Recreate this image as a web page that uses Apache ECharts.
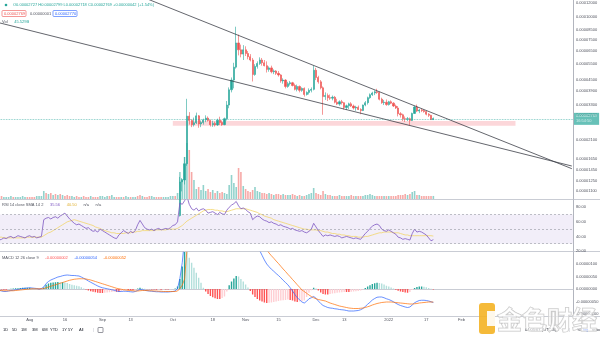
<!DOCTYPE html>
<html>
<head>
<meta charset="utf-8">
<script src="https://cdn.jsdelivr.net/npm/echarts@6/dist/echarts.min.js"></script>
<style>
html,body{margin:0;padding:0;background:#fff;}
#c{width:600px;height:337px;}
</style>
</head>
<body>
<div id="c"></div>
<script>
// ---- SHIB/USDT daily, Jul 19 2021 -> Jan 20 2022 (axis runs on to Mar 20 2022) ----
const firstDay = '2021-07-19';
const dayCount = 245;
const candleStart = '2021-10-01';

// prices in units of 1e-6 USDT
const opens = [
  7.1, 7.5, 7.4, 8.1, 12.4, 12.7, 15.6, 28.5, 27.0, 25.6, 26.2, 28.6, 25.8, 26.3, 27.2, 27.8, 27.0, 25.6, 26.0, 25.5, 27.1, 26.3, 25.6, 27.6, 32.8, 39.8, 45.0, 53.0, 72.0, 66.0, 62.5,
  66.0, 63.0, 60.5, 58.0, 48.3, 53.5, 55.5, 58.0, 56.0, 54.0, 51.5, 52.5, 50.0, 50.5, 49.0, 48.0, 44.5, 45.0, 41.5, 43.0, 43.5, 42.0, 40.0, 41.5, 39.5, 40.5, 37.5, 38.5, 39.5, 40.0,
  51.0, 46.5, 44.0, 40.8, 36.5, 37.0, 36.0, 35.8, 36.2, 34.0, 33.2, 34.2, 33.8, 31.8, 32.5, 33.3, 32.4, 31.6, 31.9, 31.0, 30.6, 32.8, 33.8, 36.0, 37.4, 38.2, 38.8, 38.5, 35.3, 33.8, 34.0,
  33.0, 34.2, 33.6, 32.4, 31.6, 29.4, 29.0, 27.6, 27.4, 27.6, 27.0, 29.5, 32.0, 30.4, 30.8, 30.6, 30.2, 29.2, 28.8, 27.27
];
const highs = [
  7.6, 7.6, 8.2, 13.2, 13.0, 17.0, 35.5, 30.0, 27.4, 28.0, 29.8, 28.9, 27.0, 27.6, 28.8, 28.4, 27.3, 26.9, 26.6, 27.6, 28.3, 27.0, 28.0, 34.5, 41.0, 46.5, 56.0, 88.4, 80.0, 70.5, 70.0,
  69.0, 65.0, 62.5, 59.5, 55.0, 57.0, 60.0, 59.5, 58.0, 57.0, 53.5, 54.0, 51.5, 51.0, 50.5, 48.5, 46.0, 45.5, 44.0, 44.5, 44.0, 43.0, 42.5, 42.0, 41.0, 41.0, 39.0, 40.5, 41.0, 54.0,
  52.5, 47.5, 45.0, 41.5, 38.5, 38.0, 37.5, 37.0, 36.8, 35.5, 34.8, 35.0, 34.0, 33.0, 33.8, 34.0, 33.0, 32.5, 32.6, 31.5, 33.0, 34.5, 36.5, 38.0, 38.8, 39.5, 40.3, 38.9, 36.0, 35.0, 35.2,
  34.6, 34.8, 34.0, 33.0, 32.4, 30.0, 29.4, 28.4, 28.2, 28.0, 29.8, 32.5, 33.0, 31.2, 31.3, 31.0, 30.5, 29.6, 29.0, 27.99
];
const lows = [
  7.0, 7.3, 7.3, 8.0, 11.0, 12.0, 15.2, 25.6, 24.8, 25.0, 25.8, 24.6, 24.8, 25.6, 26.4, 26.6, 25.0, 24.9, 25.0, 25.2, 25.5, 25.2, 25.4, 27.0, 31.5, 38.5, 40.5, 52.0, 61.5, 60.0, 58.0,
  61.0, 58.5, 57.0, 44.2, 47.5, 52.0, 54.5, 54.0, 53.5, 49.5, 50.0, 49.0, 48.5, 48.0, 47.0, 43.5, 43.0, 40.5, 40.8, 42.0, 41.5, 39.5, 39.0, 38.5, 38.8, 36.5, 37.0, 37.5, 38.5, 39.5,
  45.0, 43.0, 40.0, 29.0, 35.0, 34.5, 35.0, 34.8, 33.5, 32.8, 32.5, 33.0, 31.0, 30.8, 31.2, 32.0, 31.0, 30.5, 30.8, 29.2, 30.4, 32.3, 33.0, 35.5, 36.8, 37.2, 37.8, 34.8, 33.3, 32.8, 32.5,
  32.6, 33.2, 32.0, 31.2, 28.4, 28.0, 26.8, 26.5, 26.8, 25.4, 26.8, 29.3, 30.0, 29.6, 30.0, 29.8, 28.8, 28.2, 27.2, 27.18
];
const closes = [
  7.5, 7.4, 8.1, 12.4, 12.7, 15.6, 28.5, 27.0, 25.6, 26.2, 28.6, 25.8, 26.3, 27.2, 27.8, 27.0, 25.6, 26.0, 25.5, 27.1, 26.3, 25.6, 27.6, 32.8, 39.8, 45.0, 53.0, 72.0, 66.0, 62.5, 66.0,
  63.0, 60.5, 58.0, 48.3, 53.5, 55.5, 58.0, 56.0, 54.0, 51.5, 52.5, 50.0, 50.5, 49.0, 48.0, 44.5, 45.0, 41.5, 43.0, 43.5, 42.0, 40.0, 41.5, 39.5, 40.5, 37.5, 38.5, 39.5, 40.0, 51.0,
  46.5, 44.0, 40.8, 36.5, 37.0, 36.0, 35.8, 36.2, 34.0, 33.2, 34.2, 33.8, 31.8, 32.5, 33.3, 32.4, 31.6, 31.9, 31.0, 30.6, 32.8, 33.8, 36.0, 37.4, 38.2, 38.8, 38.5, 35.3, 33.8, 34.0, 33.0,
  34.2, 33.6, 32.4, 31.6, 29.4, 29.0, 27.6, 27.4, 27.6, 27.0, 29.5, 32.0, 30.4, 30.8, 30.6, 30.2, 29.2, 28.8, 27.27, 27.69
];

// daily volume, billions of SHIB (from Jul 19)
const volumes = [
  45,45,30,30,30,45,30,30,30,30,45,30,30,30,30,30,45,45,45,
  120,90,75,90,60,75,60,75,60,45,60,
  45,45,30,45,30,30,45,30,30,45,30,30,30,45,45,30,45,45,60,30,30,30,30,30,45,30,30,30,30,45,60,45,30,30,45,45,30,30,30,30,30,30,30,45,
  45,45,90,405,300,630,840,735,405,285,150,180,135,210,120,150,105,135,90,120,90,105,90,75,210,360,240,180,465,405,195,
  150,120,105,135,180,120,105,90,90,75,90,75,60,75,75,60,75,60,60,60,75,60,45,60,45,45,60,75,90,165,
  90,75,60,120,75,60,60,45,45,45,60,45,45,45,45,60,45,45,45,45,45,60,60,75,60,45,45,45,45,45,45,
  45,45,45,45,60,60,60,75,60,75,105,120,60,60,45,45,45,45,45,45.529
];
// up (1) / down (0) days before the first drawn candle
const earlyVolumeUp = [
  0,0,1,1,1,1,0,1,1,1,1,1,0,
  0,0,0,1,1,1,1,0,1,0,1,0,1,0,1,0,0,0,1,1,0,0,1,0,0,0,1,0,0,0,1,
  1,1,1,0,1,1,0,0,1,0,1,1,0,1,1,0,0,1,0,0,0,1,1,0,0,0,1,1,1,1
];

// RSI 14 and its SMA 14
const rsi = [
  35,36,38,37,39,40,38,39,41,40,39,38,40,41,39,40,38,39,40,
  63,65,66,64,66,67,65,68,70,72,
  68,64,61,58,56,57,55,53,51,52,49,47,48,46,
  50,48,46,44,42,40,38,37,
  42,45,48,46,44,47,45,48,
  56,62,57,
  52,50,49,50,48,50,51,49,50,51,50,52,
  55,56,60,86,84,89,95,
  84,78,76,79,75,77,78,76,72,73,74,72,70,73,71,70,
  76,80,83,85,88,82,78,79,
  77,74,72,63,66,68,67,64,62,61,59,60,58,57,55,56,54,53,52,50,51,49,48,47,48,46,45,47,50,58,
  53,48,44,40,42,41,42,41,40,41,40,38,39,40,39,38,37,38,37,36,40,44,47,51,54,56,57,55,50,48,47,
  49,47,45,43,39,38,36,37,36,35,44,50,46,47,46,44,42,38,34,35.56
];
const rsiMa = [
  39,39,38,38,38,38,38,38,38,38,38,38,39,39,39,39,39,39,39,
  41,43,45,46,48,50,52,54,56,58,60,61,62,63,
  62,61,60,59,58,57,56,55,53,52,51,49,48,
  47,46,45,45,44,44,44,44,45,45,45,46,46,47,47,48,48,48,48,48,48,49,49,49,49,49,50,50,
  50,50,51,53,55,58,61,63,65,67,69,71,73,75,76,77,77,77,76,76,75,75,74,74,75,76,77,78,78,78,78,
  78,77,76,75,74,73,71,70,68,67,66,65,63,62,61,60,59,58,57,56,55,54,53,52,51,50,50,49,49,49,
  49,48,48,47,46,46,45,44,44,43,43,42,42,41,41,40,40,40,39,39,39,40,40,41,42,43,44,45,45,46,46,
  46,46,45,45,45,44,43,42,42,41,41,41,41,41,41,41,41,41,41,40.5
];

// MACD 12 26 9, units of 1e-6
const macd = [
  -0.05,-0.08,-0.10,-0.10,-0.08,-0.06,-0.05,-0.03,-0.02,0.00,0.02,0.03,0.04,0.05,0.04,0.03,
  0.02,0.00,0.02,0.08,0.22,0.30,0.36,0.40,0.44,0.48,0.50,0.53,0.55,0.56,
  0.55,0.54,0.54,0.53,0.52,0.48,0.43,0.38,0.32,0.27,0.22,0.17,0.12,0.08,
  0.05,0.03,0.01,-0.01,-0.03,-0.05,-0.08,-0.10,-0.10,-0.09,-0.09,-0.10,-0.11,-0.12,-0.10,-0.06,-0.02,-0.03,-0.05,-0.07,-0.08,-0.09,-0.10,-0.11,-0.11,-0.12,-0.12,-0.12,-0.12,-0.11,
  -0.10,-0.08,0.02,0.42,1.05,2.00,3.05,3.10,3.15,3.15,3.10,3.00,2.87,2.71,2.57,2.46,2.36,2.28,2.21,2.14,2.10,2.10,2.12,2.30,2.55,2.72,2.88,3.04,3.08,3.02,2.94,
  2.82,2.68,2.50,2.30,2.12,1.90,1.54,1.35,1.16,1.00,0.89,0.79,0.71,0.62,0.54,0.45,0.35,0.26,0.17,0.05,-0.08,-0.22,-0.35,-0.43,-0.52,-0.56,-0.49,-0.39,-0.35,-0.30,
  -0.37,-0.48,-0.58,-0.66,-0.70,-0.74,-0.76,-0.77,-0.79,-0.80,-0.82,-0.83,-0.84,-0.86,-0.88,-0.88,-0.88,-0.87,-0.86,-0.83,-0.78,-0.70,-0.61,-0.53,-0.44,-0.38,-0.33,-0.32,-0.32,-0.35,-0.39,
  -0.42,-0.46,-0.51,-0.57,-0.62,-0.66,-0.69,-0.72,-0.74,-0.72,-0.64,-0.55,-0.50,-0.46,-0.45,-0.45,-0.46,-0.48,-0.51,-0.54
];
const signal = [
  -0.06,-0.06,-0.07,-0.07,-0.07,-0.07,-0.07,-0.06,-0.05,-0.04,-0.03,-0.02,-0.01,0.00,0.01,0.01,
  0.01,0.01,0.01,0.02,0.05,0.08,0.11,0.14,0.17,0.20,0.23,0.26,0.29,0.32,
  0.35,0.37,0.39,0.40,0.41,0.41,0.41,0.40,0.38,0.36,0.33,0.30,0.27,0.24,
  0.21,0.18,0.15,0.12,0.09,0.06,0.03,0.01,-0.01,-0.03,-0.04,-0.05,-0.06,-0.07,-0.08,-0.08,-0.07,-0.06,-0.06,-0.06,-0.07,-0.07,-0.08,-0.08,-0.09,-0.09,-0.10,-0.10,-0.10,-0.10,
  -0.10,-0.10,-0.08,0.02,0.15,0.40,1.55,1.85,2.10,2.30,2.45,2.55,2.62,2.66,2.67,2.66,2.64,2.61,2.58,2.54,2.50,2.46,2.42,2.40,2.40,2.42,2.46,2.52,2.58,2.62,2.64,
  2.64,2.62,2.58,2.52,2.44,2.30,2.00,1.85,1.70,1.56,1.44,1.33,1.23,1.12,1.02,0.91,0.80,0.70,0.59,0.49,0.38,0.28,0.17,0.07,-0.04,-0.10,-0.17,-0.24,-0.30,-0.35,
  -0.39,-0.42,-0.44,-0.46,-0.48,-0.52,-0.56,-0.59,-0.62,-0.65,-0.68,-0.70,-0.72,-0.74,-0.76,-0.77,-0.78,-0.78,-0.78,-0.77,-0.76,-0.74,-0.71,-0.68,-0.64,-0.61,-0.58,-0.56,-0.54,-0.53,-0.52,
  -0.52,-0.52,-0.53,-0.54,-0.55,-0.56,-0.57,-0.58,-0.59,-0.60,-0.60,-0.59,-0.58,-0.56,-0.55,-0.54,-0.53,-0.52,-0.52,-0.52
];
const hist = [
  0.01,-0.02,-0.03,-0.03,-0.01,0.01,0.02,0.03,0.03,0.04,0.05,0.05,0.05,0.05,0.03,0.02,
  0.01,-0.01,0.01,0.06,0.17,0.22,0.25,0.26,0.27,0.28,0.27,0.27,0.26,0.24,
  0.20,0.17,0.15,0.13,0.11,0.07,0.02,-0.02,-0.06,-0.09,-0.11,-0.13,-0.15,-0.16,
  -0.16,-0.15,-0.14,-0.13,-0.12,-0.11,-0.11,-0.11,-0.09,-0.06,-0.05,-0.05,-0.05,-0.05,-0.02,0.02,0.05,0.03,0.01,-0.01,-0.01,-0.02,-0.02,-0.03,-0.02,-0.03,-0.02,-0.02,-0.02,-0.01,
  0.00,0.02,0.10,0.40,0.90,1.60,1.50,1.25,1.05,0.85,0.65,0.45,0.25,0.05,-0.10,-0.20,-0.28,-0.33,-0.37,-0.40,-0.40,-0.36,-0.30,-0.10,0.15,0.30,0.42,0.52,0.50,0.40,0.30,
  0.18,0.06,-0.08,-0.22,-0.32,-0.40,-0.46,-0.50,-0.54,-0.56,-0.55,-0.54,-0.52,-0.50,-0.48,-0.46,-0.45,-0.44,-0.42,-0.44,-0.46,-0.50,-0.52,-0.50,-0.48,-0.46,-0.32,-0.15,-0.05,0.05,
  0.02,-0.06,-0.14,-0.20,-0.22,-0.22,-0.20,-0.18,-0.17,-0.15,-0.14,-0.13,-0.12,-0.12,-0.12,-0.11,-0.10,-0.09,-0.08,-0.06,-0.02,0.04,0.10,0.15,0.20,0.23,0.25,0.24,0.22,0.18,0.13,
  0.10,0.06,0.02,-0.03,-0.07,-0.10,-0.12,-0.14,-0.15,-0.12,-0.04,0.04,0.08,0.10,0.10,0.09,0.07,0.04,0.01,-0.02
];

// axis ticks
const priceTicks = [120, 100, 85, 75, 65, 55, 45, 39, 33, 29, 21, 16.5, 14.5, 12.5, 11];
const rsiTicks = [80, 60, 40, 20];
const macdTicks = [1.0, 0.5, 0, -0.5, -1.0];
const tickDates = ['2021-08-01','2021-08-16','2021-09-01','2021-09-13','2021-10-01','2021-10-18','2021-11-01','2021-11-15','2021-12-01','2021-12-13','2022-01-01','2022-01-17','2022-02-01','2022-02-14'];
const tickNames = ['Aug','16','Sep','13','Oct','18','Nov','15','Dec','13','2022','17','Feb','14'];

// drawings: trend lines and support zone (date, price 1e-6)
const upperTrend = [['2021-09-17', 130.4], ['2022-03-20', 14.66]];
const lowerTrend = [['2021-07-19', 92.9], ['2022-03-20', 15.16]];
const supportZone = [['2021-10-01', 26.8], ['2022-02-24', 25.2]];

// ---- build ----
const UP = '#26a69a', DOWN = '#ef5350';
const FONT = '"Liberation Sans", Arial, sans-serif';
const lg = v => Math.log10(v);
const fmtPrice = v => (v * 1e-6).toFixed(8);

const dates = [];
const t0 = Date.parse(firstDay + 'T00:00:00Z');
for (let i = 0; i < dayCount; i++) dates.push(new Date(t0 + i * 86400000).toISOString().slice(0, 10));
const off = dates.indexOf(candleStart);

const candleData = dates.map((d, i) => {
  const k = i - off;
  if (k < 0 || k >= closes.length) return '-';
  return [lg(opens[k]), lg(closes[k]), lg(lows[k]), lg(highs[k])];
});
const volumeData = volumes.map((v, i) => {
  const k = i - off;
  const up = k >= 0 ? closes[k] >= opens[k] : earlyVolumeUp[i] === 1;
  return { value: v, itemStyle: { color: up ? 'rgba(38,166,154,0.5)' : 'rgba(239,83,80,0.5)' } };
});
const histData = hist.map((v, i) => {
  const p = i > 0 ? hist[i - 1] : 0;
  let c;
  if (v >= 0) c = v >= p ? '#26a69a' : '#b2dfdb';
  else c = v <= p ? '#ff5252' : '#ffcdd2';
  return { value: v, itemStyle: { color: c } };
});

const last = closes.length - 1;
const lastClose = closes[last];
const lastChange = closes[last] - closes[last - 1];

const L = -2, R = 27;
const xBase = { type: 'category', data: dates, boundaryGap: true, axisLine: { show: false }, axisTick: { show: false }, axisLabel: { show: false }, splitLine: { show: false } };
const yLabel = { fontSize: 4, color: '#50535e', margin: 3, fontFamily: FONT, hideOverlap: false };
const axisLineStyle = { show: true, lineStyle: { color: '#b2b5be', width: 1 } };

const chart = echarts.init(document.getElementById('c'), null, { renderer: 'canvas', width: 600, height: 337 });

const sep = y => ({ type: 'line', shape: { x1: 0, y1: y, x2: 600, y2: y }, style: { stroke: '#c9ccd4', lineWidth: 1 }, silent: true });
const txt = (x, y, text, fill, size, extra) => Object.assign({ type: 'text', x, y, style: { text, fill, font: (size || 4) + 'px ' + FONT, verticalAlign: 'middle' }, silent: true }, extra || {});

chart.setOption({
  animation: false,
  backgroundColor: '#ffffff',
  grid: [
    { left: L, right: R, top: 0, height: 199, outerBoundsMode: 'none' },
    { left: L, right: R, top: 99, height: 100, outerBoundsMode: 'none' },
    { left: L, right: R, top: 200, height: 51, outerBoundsMode: 'none' },
    { left: L, right: R, top: 252, height: 64, outerBoundsMode: 'none' }
  ],
  xAxis: [
    Object.assign({}, xBase, { gridIndex: 0 }),
    Object.assign({}, xBase, { gridIndex: 1 }),
    Object.assign({}, xBase, { gridIndex: 2 }),
    Object.assign({}, xBase, {
      gridIndex: 3,
      axisLine: { show: true, lineStyle: { color: '#c9ccd4', width: 1 } },
      axisLabel: {
        show: true, fontSize: 4, color: '#50535e', margin: 2, fontFamily: FONT, hideOverlap: false,
        interval: (idx, val) => tickDates.indexOf(val) >= 0,
        formatter: v => tickNames[tickDates.indexOf(v)]
      }
    })
  ],
  yAxis: [
    { gridIndex: 0, type: 'value', position: 'right', min: lg(9.987), max: lg(123.97),
      axisLine: axisLineStyle, axisTick: { show: false }, splitLine: { show: false },
      axisLabel: Object.assign({}, yLabel, { customValues: priceTicks.map(lg), formatter: v => fmtPrice(Math.pow(10, v)) }) },
    { gridIndex: 1, type: 'value', min: 0, max: 1500, show: false, splitLine: { show: false } },
    { gridIndex: 2, type: 'value', position: 'right', min: 20, max: 90,
      axisLine: axisLineStyle, axisTick: { show: false }, splitLine: { show: false },
      axisLabel: Object.assign({}, yLabel, { customValues: rsiTicks, formatter: v => v.toFixed(2) }) },
    { gridIndex: 3, type: 'value', position: 'right', min: -1.08, max: 1.48,
      axisLine: axisLineStyle, axisTick: { show: false }, splitLine: { show: false },
      axisLabel: Object.assign({}, yLabel, { customValues: macdTicks, formatter: v => fmtPrice(v) }) }
  ],
  series: [
    { type: 'bar', xAxisIndex: 1, yAxisIndex: 1, data: volumeData, barWidth: 1.6, silent: true, z: 1 },
    { type: 'candlestick', xAxisIndex: 0, yAxisIndex: 0, data: candleData, barWidth: 1.7, clip: true, silent: true, z: 3,
      itemStyle: { color: UP, color0: DOWN, borderColor: UP, borderColor0: DOWN, borderWidth: 0.6 },
      markArea: { silent: true, itemStyle: { color: 'rgba(242,54,69,0.2)' },
        data: [[{ xAxis: supportZone[0][0], yAxis: lg(supportZone[0][1]) }, { xAxis: supportZone[1][0], yAxis: lg(supportZone[1][1]) }]] },
      markLine: { silent: true, symbol: 'none',
        lineStyle: { color: '#26a69a', type: 'dotted', width: 0.8, opacity: 0.7 },
        data: [
          { yAxis: lg(lastClose), label: { show: true, position: 'end', distance: 1, formatter: fmtPrice(lastClose) + '\n16:54:50',
              backgroundColor: UP, color: '#fff', fontSize: 4, lineHeight: 5, padding: [1, 2, 1, 2], fontFamily: FONT } },
          { yAxis: lg(lastClose), lineStyle: { opacity: 0 }, label: { show: true, position: 'insideEndTop', distance: -3, formatter: 'SHIBUSDT',
              backgroundColor: UP, color: '#fff', fontSize: 4, lineHeight: 5, padding: [0.5, 2, 0.5, 2], fontFamily: FONT } }
        ] } },
    { type: 'line', xAxisIndex: 0, yAxisIndex: 0, data: upperTrend.map(p => [p[0], lg(p[1])]), symbol: 'none', clip: true, silent: true, z: 5,
      lineStyle: { color: '#3c3f47', width: 0.8 } },
    { type: 'line', xAxisIndex: 0, yAxisIndex: 0, data: lowerTrend.map(p => [p[0], lg(p[1])]), symbol: 'none', clip: true, silent: true, z: 5,
      lineStyle: { color: '#3c3f47', width: 0.8 } },
    { type: 'line', xAxisIndex: 2, yAxisIndex: 2, data: rsi, symbol: 'none', clip: true, silent: true, z: 4,
      lineStyle: { color: '#7e57c2', width: 0.8 },
      markArea: { silent: true, itemStyle: { color: 'rgba(126,87,194,0.1)' }, data: [[{ yAxis: 70 }, { yAxis: 30 }]] },
      markLine: { silent: true, symbol: 'none', label: { show: false },
        lineStyle: { color: '#9598a1', type: [2, 2], width: 0.6 },
        data: [{ yAxis: 70 }, { yAxis: 50 }, { yAxis: 30 }] } },
    { type: 'line', xAxisIndex: 2, yAxisIndex: 2, data: rsiMa, symbol: 'none', clip: true, silent: true, z: 3,
      lineStyle: { color: '#f3d66b', width: 0.8 } },
    { type: 'bar', xAxisIndex: 3, yAxisIndex: 3, data: histData, barWidth: 1.4, silent: true, z: 2 },
    { type: 'line', xAxisIndex: 3, yAxisIndex: 3, data: macd, symbol: 'none', clip: true, silent: true, z: 4,
      lineStyle: { color: '#2962ff', width: 0.7 } },
    { type: 'line', xAxisIndex: 3, yAxisIndex: 3, data: signal, symbol: 'none', clip: true, silent: true, z: 4,
      lineStyle: { color: '#ff6d00', width: 0.7 } }
  ],
  graphic: [
    sep(199.5), sep(251.5), sep(316.5),
    // header: last bar OHLC
    { type: 'circle', shape: { cx: 6, cy: 5, r: 1.3 }, style: { fill: UP }, silent: true },
    txt(13, 5.3, 'O' + fmtPrice(opens[last]) + ' H' + fmtPrice(highs[last]) + ' L' + fmtPrice(lows[last]) + ' C' + fmtPrice(lastClose) +
      ' +' + fmtPrice(lastChange) + ' (+' + (lastChange / closes[last - 1] * 100).toFixed(2) + '%)', UP, 4),
    { type: 'rect', shape: { x: 2, y: 10.5, width: 24, height: 6, r: 1 }, style: { fill: '#fff', stroke: '#ef5350', lineWidth: 0.6 }, silent: true },
    txt(4, 13.6, fmtPrice(lastClose), '#ef5350', 4),
    txt(30, 13.6, '0.00000001', '#50535e', 4),
    { type: 'rect', shape: { x: 53, y: 10.5, width: 24, height: 6, r: 1 }, style: { fill: '#fff', stroke: '#2962ff', lineWidth: 0.6 }, silent: true },
    txt(55, 13.6, fmtPrice(lastClose + 0.01), '#2962ff', 4),
    { type: 'text', x: 2, y: 22, silent: true, style: { text: '{a|Vol}  {b|' + volumes[volumes.length - 1].toFixed(3) + 'B}', verticalAlign: 'middle',
        rich: { a: { fill: '#50535e', font: '4px ' + FONT }, b: { fill: UP, font: '4px ' + FONT } } } },
    // RSI header
    { type: 'text', x: 2, y: 205, silent: true, style: { text: '{a|RSI 14 close SMA 14 2}  {b|' + rsi[rsi.length - 1].toFixed(2) + '}  {c|' + rsiMa[rsiMa.length - 1].toFixed(2) + '}  {a|n/a}  {a|n/a}', verticalAlign: 'middle',
        rich: { a: { fill: '#50535e', font: '4px ' + FONT }, b: { fill: '#7e57c2', font: '4px ' + FONT }, c: { fill: '#e0b030', font: '4px ' + FONT } } } },
    // MACD header
    { type: 'text', x: 2, y: 258, silent: true, style: { text: '{a|MACD 12 26 close 9}  {r|' + fmtPrice(hist[hist.length - 1]) + '}  {b|' + fmtPrice(macd[macd.length - 1]) + '}  {o|' + fmtPrice(signal[signal.length - 1]) + '}', verticalAlign: 'middle',
        rich: { a: { fill: '#50535e', font: '4px ' + FONT }, r: { fill: '#ff5252', font: '4px ' + FONT }, b: { fill: '#2962ff', font: '4px ' + FONT }, o: { fill: '#ff6d00', font: '4px ' + FONT } } } },
    // bottom toolbar
    txt(3, 330, '1D', '#131722', 4), txt(12, 330, '5D', '#131722', 4), txt(21, 330, '1M', '#131722', 4), txt(32, 330, '3M', '#131722', 4),
    txt(42, 330, '6M', '#131722', 4), txt(50, 330, 'YTD', '#131722', 4), txt(62, 330, '1Y', '#131722', 4), txt(68, 330, '5Y', '#131722', 4),
    txt(79, 330, 'All', '#131722', 4), txt(93, 330, '|', '#b2b5be', 4),
    { type: 'rect', shape: { x: 98, y: 327.5, width: 5, height: 5, r: 0.5 }, style: { fill: 'none', stroke: '#50535e', lineWidth: 0.6 }, silent: true },
    txt(525, 330, '04:05:07 (UTC-3)', '#131722', 4), txt(569, 330, '|', '#b2b5be', 4),
    txt(577, 330, '%', '#131722', 4), txt(583, 330, 'log', '#2962ff', 4), txt(592, 330, 'auto', '#131722', 4),
    // watermark
    { type: 'rect', shape: { x: 479, y: 303, width: 16, height: 31, r: 3 }, style: { fill: '#f4b223', opacity: 0.9 }, silent: true, z: 100 },
    { type: 'rect', shape: { x: 487, y: 311, width: 8, height: 15 }, style: { fill: '#ffffff', opacity: 0.9 }, silent: true, z: 100 },
    { type: 'text', x: 497, y: 319, z: 100, silent: true,
      style: { text: '金色财经', font: 'bold 25px "Noto Sans CJK SC"', fill: 'rgba(255,255,255,0.55)', stroke: '#c4c4c4', lineWidth: 1, verticalAlign: 'middle' } }
  ]
});
</script>
</body>
</html>
